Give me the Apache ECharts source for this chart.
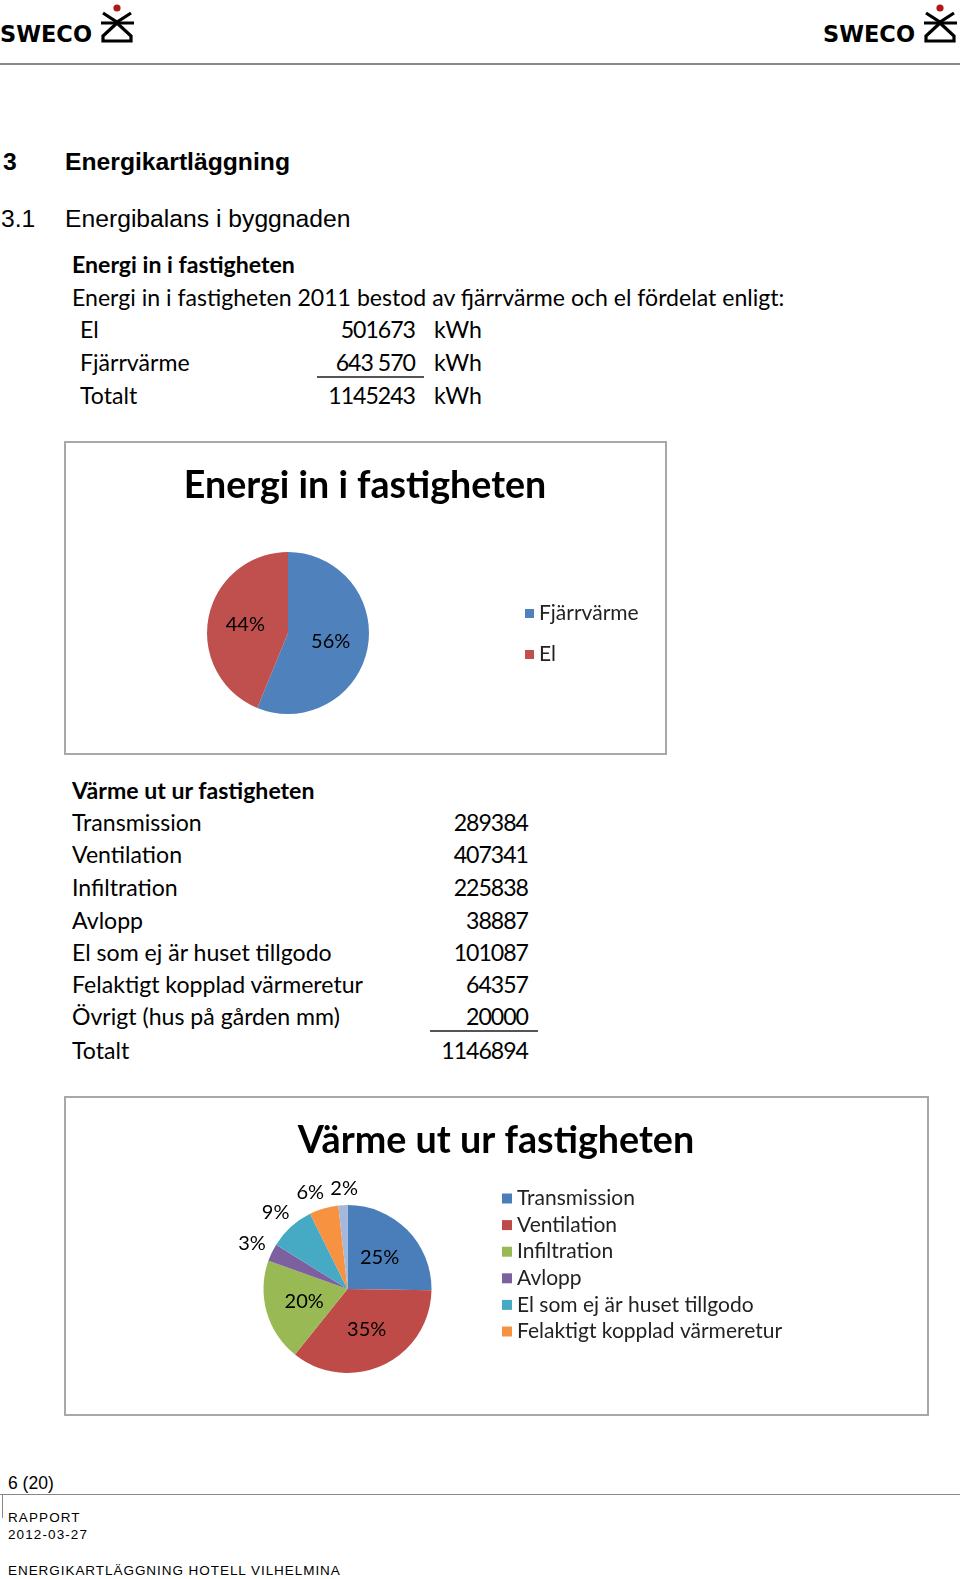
<!DOCTYPE html>
<html><head><meta charset="utf-8">
<script src="https://cdn.jsdelivr.net/npm/echarts@6/dist/echarts.min.js"></script>
<style>
html,body{margin:0;padding:0;background:#fff;}
#page{position:relative;width:960px;height:1579px;overflow:hidden;background:#fff;}
.t{position:absolute;white-space:nowrap;color:#000;}
.chart{position:absolute;}
.ln{position:absolute;background:#777;}
</style></head><body><div id="page">
<svg id="logoL" style="position:absolute;left:0;top:0" width="140" height="50"></svg>
<svg id="logoR" style="position:absolute;left:818px;top:0" width="142" height="50"></svg>
<div class="ln" style="left:0;top:63px;width:960px;height:2px;background:#8a8a8a"></div>
<div id="c1" class="chart" style="left:63px;top:440px;width:604px;height:315px"></div>
<div id="c2" class="chart" style="left:63px;top:1095px;width:866px;height:321px"></div>
<div class="ln" style="left:317px;top:376px;width:107px;height:1.5px;background:#555"></div>
<div class="ln" style="left:430px;top:1030px;width:108px;height:1.5px;background:#555"></div>
<div class="ln" style="left:0;top:1494px;width:960px;height:1px;background:#888"></div>
<div class="ln" style="left:2px;top:1494px;width:1px;height:24px;background:#888"></div>
</div>
<script>
// ---- data ----
const energyInRowLabels = ['El', 'Fjärrvärme', 'Totalt'];
const energyInRowValues = ['501673', '643 570', '1145243'];
const energyInUnit = 'kWh';
const pie1Categories = ['Fjärrvärme', 'El'];
const pie1Values = [643570, 501673];

const heatOutRowLabels = ['Transmission', 'Ventilation', 'Infiltration', 'Avlopp', 'El som ej är huset tillgodo', 'Felaktigt kopplad värmeretur', 'Övrigt (hus på gården mm)', 'Totalt'];
const heatOutRowValues = ['289384', '407341', '225838', '38887', '101087', '64357', '20000', '1146894'];
const pie2Categories = ['Transmission', 'Ventilation', 'Infiltration', 'Avlopp', 'El som ej är huset tillgodo', 'Felaktigt kopplad värmeretur', 'Övrigt (hus på gården mm)'];
const pie2Values = [289384, 407341, 225838, 38887, 101087, 64357, 20000];
const pie2LegendCount = 6;

const chart1Title = 'Energi in i fastigheten';
const chart2Title = 'Värme ut ur fastigheten';

// ---- page text ----
const page = document.getElementById('page');
const ARIAL = '"Liberation Sans", Arial, sans-serif';
const CAL = 'Lato, "Open Sans", sans-serif';
const BODY = 23.1;
const NUM = {letterSpacing: '-1px'};
function put(text, x, cy, size, family, weight, align, extra) {
  const d = document.createElement('div');
  d.className = 't';
  d.textContent = text;
  const lh = Math.round(size * 1.25);
  d.style.fontSize = size + 'px';
  d.style.lineHeight = lh + 'px';
  d.style.fontFamily = family;
  d.style.fontWeight = weight || 'normal';
  d.style.top = (cy - lh / 2) + 'px';
  d.style.left = x + 'px';
  if (align === 'right') d.style.transform = 'translateX(-100%)';
  if (extra) Object.assign(d.style, extra);
  page.appendChild(d);
}
put('3', 3, 161, 24.7, ARIAL, 'bold');
put('Energikartläggning', 65, 161, 24.7, ARIAL, 'bold');
put('3.1', 1, 218, 24.7, ARIAL);
put('Energibalans i byggnaden', 65, 218, 24.7, ARIAL);
put('Energi in i fastigheten', 72, 264, BODY, CAL, 'bold');
put('Energi in i fastigheten 2011 bestod av fjärrvärme och el fördelat enligt:', 72, 297, BODY, CAL);
const rowY1 = [329, 362, 395];
energyInRowLabels.forEach((l, i) => {
  put(l, 80, rowY1[i], BODY, CAL);
  put(energyInRowValues[i], 415, rowY1[i], BODY, CAL, 'normal', 'right', NUM);
  put(energyInUnit, 434, rowY1[i], BODY, CAL);
});
put('Värme ut ur fastigheten', 72, 790, BODY, CAL, 'bold');
const rowY2 = [822, 854, 887, 920, 952, 984, 1016, 1050];
heatOutRowLabels.forEach((l, i) => {
  put(l, 72, rowY2[i], BODY, CAL);
  put(heatOutRowValues[i], 528, rowY2[i], BODY, CAL, 'normal', 'right', NUM);
});
put('6 (20)', 8, 1483, 17.5, ARIAL);
put('RAPPORT', 8, 1517, 13.5, ARIAL, 'normal', null, {letterSpacing: '1.1px'});
put('2012-03-27', 8, 1534, 13.5, ARIAL, 'normal', null, {letterSpacing: '1.1px'});
put('ENERGIKARTLÄGGNING HOTELL VILHELMINA', 8, 1570, 13.5, ARIAL, 'normal', null, {letterSpacing: '0.95px'});

// ---- logos ----
function logo(svg, ox) {
  svg.style.left = ox + 'px';
  svg.innerHTML =
    '<text x="0" y="42" font-family="DejaVu Sans, sans-serif" font-weight="bold" font-size="23" textLength="92" lengthAdjust="spacingAndGlyphs">SWECO</text>' +
    '<circle cx="117" cy="8" r="3.6" fill="#b01818"/>' +
    '<path d="M103 13 L117 22 L131 13" stroke="#000" stroke-width="3.2" fill="none"/>' +
    '<path d="M101 23 L134 23" stroke="#000" stroke-width="3.2"/>' +
    '<path d="M117 23 L103 36 L103 41 L131 41 L131 36 Z" stroke="#000" stroke-width="3.2" fill="none" stroke-linejoin="miter"/>';
}
logo(document.getElementById('logoL'), 0);
logo(document.getElementById('logoR'), 823);

// ---- charts ----
const TXT = '#000';
function frame(w, h) {
  return [{type: 'rect', left: 1, top: 1, shape: {width: w - 3, height: h - 3},
    style: {fill: '#fff', stroke: '#a8a8a8', lineWidth: 2}, z: -10}];
}
const c1 = echarts.init(document.getElementById('c1'), null, {renderer: 'canvas'});
c1.setOption({
  animation: false,
  color: ['#4F81BD', '#C0504D'],
  graphic: frame(604, 315),
  title: {text: chart1Title, left: 'center', top: 22,
    textStyle: {fontFamily: CAL, fontSize: 37.6, fontWeight: 'bold', color: TXT}},
  legend: {data: pie1Categories, orient: 'vertical', left: 457, top: 158,
    itemWidth: 9, itemHeight: 9, itemGap: 20, icon: 'rect',
    textStyle: {fontFamily: CAL, fontSize: 21, color: '#222'}},
  series: [{
    type: 'pie', center: [225, 193], radius: 81, startAngle: 90, clockwise: true,
    percentPrecision: 0,
    label: {show: true, position: 'inside', formatter: '{d}%', color: TXT, fontFamily: CAL, fontSize: 20},
    labelLine: {show: false},
    emphasis: {disabled: true},
    itemStyle: {borderWidth: 0},
    data: pie1Categories.map((n, i) => ({name: n, value: pie1Values[i]}))
  }]
});

const c2 = echarts.init(document.getElementById('c2'), null, {renderer: 'canvas'});
const total2 = pie2Values.reduce((a, b) => a + b, 0);
// label gap tweaks for the small outside slices (style only)
const outsideGap = {'Felaktigt kopplad värmeretur': -5, 'Övrigt (hus på gården mm)': -16};
c2.setOption({
  animation: false,
  color: ['#4A7EBB', '#BE4B48', '#98B954', '#7D60A0', '#46AAC5', '#F69240', '#A5B8DB'],
  graphic: frame(866, 321),
  title: {text: chart2Title, left: 'center', top: 22,
    textStyle: {fontFamily: CAL, fontSize: 37.7, fontWeight: 'bold', color: TXT}},
  legend: {data: pie2Categories.slice(0, pie2LegendCount), orient: 'vertical', left: 434, top: 88,
    itemWidth: 10, itemHeight: 10, itemGap: 5.6, icon: 'rect',
    textStyle: {fontFamily: CAL, fontSize: 21, color: '#222'}},
  series: [{
    type: 'pie', center: [284.5, 194], radius: 84, startAngle: 90, clockwise: true,
    percentPrecision: 0, avoidLabelOverlap: false,
    labelLayout: {hideOverlap: false},
    label: {show: true, position: 'inside', formatter: '{d}%', color: TXT, fontFamily: CAL, fontSize: 20},
    labelLine: {show: false, length: 8, length2: 0},
    emphasis: {disabled: true},
    itemStyle: {borderWidth: 0},
    data: pie2Categories.map((n, i) => {
      const d = {name: n, value: pie2Values[i]};
      if (pie2Values[i] / total2 < 0.1) {
        d.label = {position: 'outside', distanceToLabelLine: (n in outsideGap) ? outsideGap[n] : -12};
        d.labelLine = {show: false, length: (n in outsideGap) ? 17 : 20, length2: 0};
      }
      return d;
    })
  }]
});
</script>
</body></html>
